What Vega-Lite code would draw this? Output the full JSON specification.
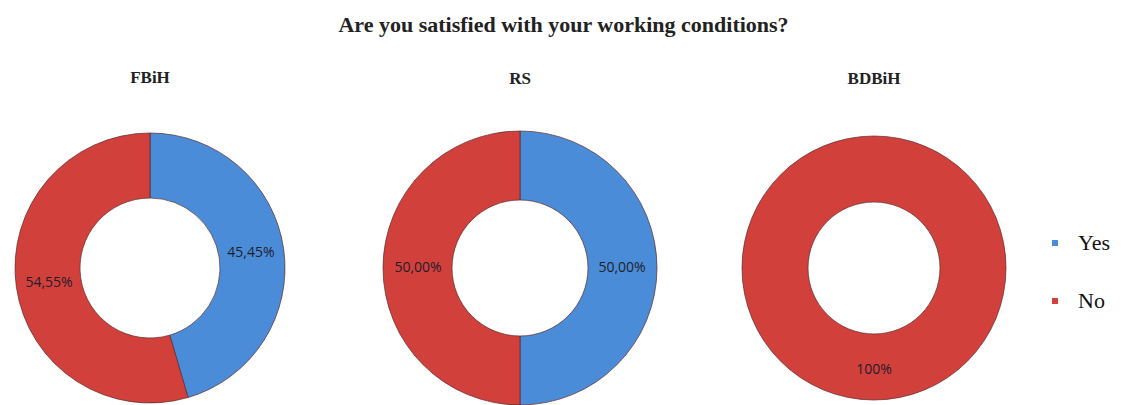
{
  "$schema": "https://vega.github.io/schema/vega-lite/v6.json",
  "padding": {"left": 0, "top": 13, "right": 0, "bottom": 0},
  "background": "white",
  "title": {"text": "Are you satisfied with your working conditions?", "font": "Liberation Serif", "fontSize": 22, "fontWeight": "bold", "color": "#222222", "anchor": "middle", "offset": 32, "dx": 8},
  "data": {"values": [
    {"region": "FBiH", "answer": "Yes", "order": 1, "value": 45.45, "label": "45,45%"},
    {"region": "FBiH", "answer": "No", "order": 2, "value": 54.55, "label": "54,55%"},
    {"region": "RS", "answer": "Yes", "order": 1, "value": 50, "label": "50,00%"},
    {"region": "RS", "answer": "No", "order": 2, "value": 50, "label": "50,00%"},
    {"region": "BDBiH", "answer": "No", "order": 2, "value": 100, "label": "100%"}
  ]},
  "config": {"view": {"stroke": null}, "title": {"font": "Liberation Serif", "fontWeight": "bold", "fontSize": 17, "color": "#222222"}},
  "spacing": 20,
  "resolve": {"scale": {"color": "shared"}},
  "hconcat": [
    {
      "width": 300, "height": 240,
      "title": {"text": "FBiH", "offset": 45},
      "transform": [{"filter": "datum.region === 'FBiH'"}],
      "encoding": {
        "theta": {"field": "value", "type": "quantitative", "stack": true},
        "order": {"field": "order", "type": "quantitative"}
      },
      "layer": [
        {"mark": {"type": "arc", "outerRadius": 135, "innerRadius": 70, "stroke": "#5a2a2a", "strokeWidth": 0.7},
         "encoding": {"color": {"field": "answer", "type": "nominal", "scale": {"domain": ["Yes", "No"], "range": ["#4A8CD8", "#D2403C"]}, "legend": {"title": null, "orient": "none", "legendX": 1044, "legendY": 84, "symbolType": "square", "symbolSize": 36, "symbolStrokeWidth": 0, "labelFont": "Liberation Serif", "labelFontSize": 22, "labelColor": "#111111", "rowPadding": 36, "labelOffset": 12}}}},
        {"mark": {"type": "text", "radius": 102, "font": "Open Sans", "fontSize": 14, "color": "#1e1e2a"},
         "encoding": {"text": {"field": "label"}}}
      ]
    },
    {
      "width": 400, "height": 240,
      "title": {"text": "RS", "offset": 42},
      "transform": [{"filter": "datum.region === 'RS'"}],
      "encoding": {
        "theta": {"field": "value", "type": "quantitative", "stack": true},
        "order": {"field": "order", "type": "quantitative"}
      },
      "layer": [
        {"mark": {"type": "arc", "outerRadius": 137, "innerRadius": 68, "stroke": "#5a2a2a", "strokeWidth": 0.7},
         "encoding": {"color": {"field": "answer", "type": "nominal"}}},
        {"mark": {"type": "text", "radius": 102, "font": "Open Sans", "fontSize": 14, "color": "#1e1e2a"},
         "encoding": {"text": {"field": "label"}}}
      ]
    },
    {
      "width": 254, "height": 240,
      "title": {"text": "BDBiH", "offset": 47},
      "transform": [{"filter": "datum.region === 'BDBiH'"}],
      "encoding": {
        "theta": {"field": "value", "type": "quantitative", "stack": true},
        "order": {"field": "order", "type": "quantitative"}
      },
      "layer": [
        {"mark": {"type": "arc", "outerRadius": 132, "innerRadius": 66, "stroke": "#5a2a2a", "strokeWidth": 0.7},
         "encoding": {"color": {"field": "answer", "type": "nominal"}}},
        {"mark": {"type": "text", "radius": 102, "font": "Open Sans", "fontSize": 14, "color": "#1e1e2a"},
         "encoding": {"text": {"field": "label"}}}
      ]
    }
  ]
}
